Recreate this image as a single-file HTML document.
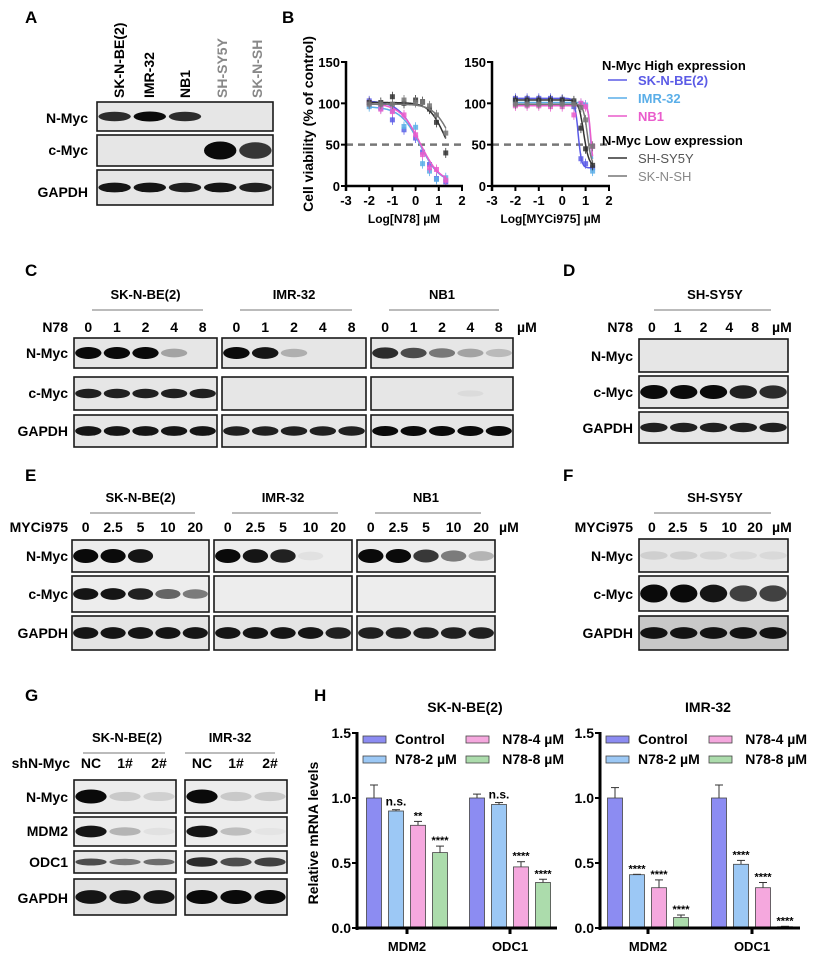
<!DOCTYPE html>
<html><head><meta charset="utf-8"><style>
html,body{margin:0;padding:0;background:#fff;}
svg{display:block;font-family:"Liberation Sans",Arial,sans-serif;font-weight:bold;}
</style></head><body>
<svg id="fig" width="813" height="958" viewBox="0 0 813 958" xmlns="http://www.w3.org/2000/svg">
<g id="letters" font-size="17" fill="#000">
<text x="25" y="23">A</text>
<text x="282" y="23">B</text>
<text x="25" y="276">C</text>
<text x="563" y="276">D</text>
<text x="25" y="481">E</text>
<text x="563" y="481">F</text>
<text x="25" y="701">G</text>
<text x="314" y="701">H</text>
</g>
<g id="blots"></g>
<g id="chartB"></g>
<g id="chartH"></g>
</svg>
<script>
// ---------- Panel B data ----------
const bLines = ["SK-N-BE(2)","IMR-32","NB1","SH-SY5Y","SK-N-SH"];
const bColors = ["#5b5be6","#5aaee8","#ea5ccc","#333333","#777777"];
const b1X = [-2,-1.5,-1,-0.5,0,0.3,0.6,0.9,1.3];
const b1SKNBE = [103,95,80,68,58,41,26,9,5];
const b1IMR = [96,94,91,72,71,27,18,8,10];
const b1NB1 = [100,93,90,86,62,38,22,20,7];
const b1SHSY = [101,101,108,100,104,102,93,77,40];
const b1SKNSH = [99,99,99,104,101,101,97,86,64];
const b1IC50 = [0.15,0.2,0.2,1.25,1.5];
const b1Hill = [1.0,1.0,1.0,1.3,1.2];
const b2X = [-2,-1.5,-1,-0.5,0,0.5,0.8,1.0,1.3];
const b2SKNBE = [106,106,106,106,105,96,33,27,22];
const b2IMR = [101,101,101,101,101,101,100,98,18];
const b2NB1 = [97,97,97,96,96,86,100,96,48];
const b2SHSY = [104,104,104,104,104,103,70,45,25];
const b2SKNSH = [99,99,99,99,99,99,95,80,48];
const b2IC50 = [0.68,1.2,1.22,0.92,1.08];
const b2Hill = [6,8,8,4,5];
const bYTicks = [0,50,100,150];
const bXTicks = [-3,-2,-1,0,1,2];

// ---------- Panel H data ----------
const hGenes = ["MDM2","ODC1"];
const hGroups = ["Control","N78-2 µM","N78-4 µM","N78-8 µM"];
const hColors = ["#8c8cf2","#9cc8f5","#f5a8de","#acdcac"];
const hSKNBE = [[1.0,0.9,0.79,0.58],[1.0,0.95,0.47,0.35]];
const hSKNBEErr = [[0.1,0.01,0.03,0.05],[0.03,0.015,0.04,0.025]];
const hSKNBESig = [["","n.s.","**","****"],["","n.s.","****","****"]];
const hIMR = [[1.0,0.41,0.31,0.08],[1.0,0.49,0.31,0.01]];
const hIMRErr = [[0.08,0.003,0.06,0.02],[0.1,0.03,0.04,0.003]];
const hIMRSig = [["","****","****","****"],["","****","****","****"]];
const hYTicks = [0,0.5,1.0,1.5];

const NS="http://www.w3.org/2000/svg";
function mk(tag, parent, attrs){const e=document.createElementNS(NS,tag);for(const k in attrs)e.setAttribute(k,attrs[k]);parent.appendChild(e);return e;}
function txt(parent,x,y,s,size,anchor,fill,extra){const t=mk('text',parent,Object.assign({x:x,y:y,'font-size':size,'text-anchor':anchor||'start',fill:fill||'#000'},extra||{}));t.textContent=s;return t;}

// ---------- Blots ----------
const blots=document.getElementById('blots');
function blot(x0,x1,y0,y1,ints,name,bg,bandH){
  const g=mk('g',blots,{});
  
  
  mk('rect',g,{x:x0,y:y0,width:x1-x0,height:y1-y0,fill:bg||'#e6e6e6',stroke:'#1a1a1a','stroke-width':1.6});
  const n=ints.length, w=(x1-x0)/n;
  ints.forEach((v,i)=>{ if(v<=0)return;
    const ry=Math.min((y1-y0)*0.4,(bandH||(y1-y0)*0.2)*(0.6+0.4*v));
    const b=mk('ellipse',g,{cx:x0+w*(i+0.5),cy:(y0+y1)/2,rx:w*0.46,ry:ry,fill:'#0a0a0a','fill-opacity':Math.min(1,v)});
    
    
  });
}
function rowLabel(x,y,s){const t=txt(blots,x,y,s,14,'end');}

// Panel A
const aNames=["SK-N-BE(2)","IMR-32","NB1","SH-SY5Y","SK-N-SH"];
const aX=[118,148,184,221,256];
aNames.forEach((s,i)=>{const t=txt(blots,aX[i]+6,98,s,14,'start',i<3?'#000':'#888',{transform:`rotate(-90 ${aX[i]+6} 98)`});});
blot(97,273,102,131,[0.85,1,0.85,0,0],'blot-a-nmyc',null,5);
blot(97,273,135,166,[0,0,0,1,0.8],'blot-a-cmyc',null,9);
blot(97,273,170,205,[0.95,0.95,0.9,0.95,0.9],'blot-a-gapdh',null,5);
rowLabel(88,123,'N-Myc');rowLabel(88,155,'c-Myc');rowLabel(88,197,'GAPDH');

function header(cx,y,s,x0,x1){txt(blots,cx,y,s,13,'middle');mk('line',blots,{x1:x0,x2:x1,y1:y+11,y2:y+11,stroke:'#777','stroke-width':1});}
function doses(x0,x1,y,arr,extra){const w=(x1-x0)/arr.length;arr.forEach((d,i)=>txt(blots,x0+w*(i+0.5),y,d,14,'middle'));if(extra)txt(blots,x1+4,y,extra,14,'start');}

// Panel C
const cBox=[[74,217],[222,366],[371,513]];
const cNames=["SK-N-BE(2)","IMR-32","NB1"];
const cN=[[1,1,1,0.3,0],[1,0.95,0.25,0,0],[0.85,0.7,0.5,0.3,0.2]];
const cC=[[0.9,0.9,0.9,0.9,0.9],[0,0,0,0,0],[0,0,0,0.05,0]];
const cG=[[0.95,0.95,0.95,0.95,0.95],[0.9,0.9,0.9,0.9,0.9],[1,1,1,1,1]];
txt(blots,68,332,'N78',14,'end');
cBox.forEach((b,i)=>{header((b[0]+b[1])/2,299,cNames[i],b[0]+18,b[1]-14);doses(b[0],b[1],332,["0","1","2","4","8"],i==2?'µM':'');
 blot(b[0],b[1],338,368,cN[i],'blot-c-nmyc',null,6);blot(b[0],b[1],377,410,cC[i],'blot-c-cmyc',null,5);blot(b[0],b[1],415,447,cG[i],'blot-c-gapdh',null,5);});
rowLabel(68,358,'N-Myc');rowLabel(68,398,'c-Myc');rowLabel(68,436,'GAPDH');
// Panel D
header(715,299,'SH-SY5Y',654,771);txt(blots,633,332,'N78',14,'end');doses(639,768,332,["0","1","2","4","8"],'µM');
blot(639,788,339,372,[0,0,0,0,0],'blot-d-nmyc');blot(639,788,376,408,[1,1,1,0.9,0.85],'blot-d-cmyc',null,7);blot(639,788,412,443,[0.9,0.9,0.9,0.9,0.9],'blot-d-gapdh',null,5);
rowLabel(633,361,'N-Myc');rowLabel(633,397,'c-Myc');rowLabel(633,433,'GAPDH');
// Panel E
const eBox=[[72,209],[214,352],[357,495]];
const eN=[[1,1,0.95,0,0],[1,0.95,0.9,0.05,0],[1,1,0.8,0.5,0.25]];
const eC=[[0.95,0.95,0.9,0.6,0.5],[0,0,0,0,0],[0,0,0,0,0]];
const eG=[[0.95,0.95,0.95,0.95,0.95],[0.95,0.95,0.95,0.95,0.9],[0.9,0.9,0.9,0.9,0.9]];
txt(blots,68,532,'MYCi975',14,'end');
eBox.forEach((b,i)=>{header((b[0]+b[1])/2,502,cNames[i],b[0]+18,b[1]-14);doses(b[0],b[1],532,["0","2.5","5","10","20"],i==2?'µM':'');
 blot(b[0],b[1],540,572,eN[i],'blot-e-nmyc','#ededed',7);blot(b[0],b[1],576,612,eC[i],'blot-e-cmyc','#ededed',6);blot(b[0],b[1],616,650,eG[i],'blot-e-gapdh','#e4e4e4',6);});
rowLabel(68,561,'N-Myc');rowLabel(68,599,'c-Myc');rowLabel(68,638,'GAPDH');
// Panel F
header(715,502,'SH-SY5Y',654,771);txt(blots,633,532,'MYCi975',14,'end');doses(639,768,532,["0","2.5","5","10","20"],'µM');
blot(639,788,539,572,[0.1,0.1,0.08,0.06,0.06],'blot-f-nmyc');blot(639,788,576,611,[1,1,0.95,0.75,0.75],'blot-f-cmyc','#e8e8e8',9);blot(639,788,616,650,[0.95,0.95,0.95,0.95,0.95],'blot-f-gapdh','#c8c8c8',6);
rowLabel(633,561,'N-Myc');rowLabel(633,599,'c-Myc');rowLabel(633,638,'GAPDH');
// Panel G
header(127,742,'SK-N-BE(2)',83,165);header(230,742,'IMR-32',185,275);
txt(blots,70,768,'shN-Myc',14,'end');doses(74,176,768,["NC","1#","2#"]);doses(185,287,768,["NC","1#","2#"]);
blot(74,176,780,813,[1,0.15,0.12],'blot-g-sknbe-nmyc','#ececec',7);blot(185,287,780,813,[1,0.15,0.15],'blot-g-imr-nmyc','#ececec',7);
blot(74,176,817,846,[0.95,0.25,0.05],'blot-g-sknbe-mdm2','#ececec',6);blot(185,287,817,846,[0.95,0.2,0.03],'blot-g-imr-mdm2','#ececec',6);
blot(74,176,851,873,[0.7,0.5,0.55],'blot-g-sknbe-odc1','#e6e6e6',4);blot(185,287,851,873,[0.85,0.7,0.75],'blot-g-imr-odc1','#e6e6e6',5);
blot(74,176,879,915,[0.95,0.95,0.95],'blot-g-sknbe-gapdh','#e2e2e2',7);blot(185,287,879,915,[1,1,1],'blot-g-imr-gapdh','#e2e2e2',7);
rowLabel(68,802,'N-Myc');rowLabel(68,836,'MDM2');rowLabel(68,867,'ODC1');rowLabel(68,903,'GAPDH');

// ---------- Panel B charts ----------
const gB=document.getElementById('chartB');
function drawDR(ax0,ax1,xs,series,ic50,hill,xlabel,name){
  const y0=186,y150=62;
  const X=v=>ax0+(v+3)/5*(ax1-ax0);
  const Y=v=>y0-(v/150)*(y0-y150);
  const g=mk('g',gB,{});
  
  
  mk('line',g,{x1:X(-3),x2:X(2),y1:Y(50),y2:Y(50),stroke:'#777','stroke-width':2.5,'stroke-dasharray':'7,5'});
  series.forEach((s,k)=>{
    let d='';for(let i=0;i<=200;i++){const xv=xs[0]+(xs[xs.length-1]-xs[0])*i/200;const top=s[0],bot=k<3?(name.includes('1')?3:22):(name.includes('1')?20:24);const yv=bot+(top-bot)/(1+Math.pow(10,(xv-ic50[k])*hill[k]));d+=(i?'L':'M')+X(xv).toFixed(1)+','+Y(yv).toFixed(1);}
    const p=mk('path',g,{d:d,fill:'none',stroke:bColors[k],'stroke-width':1.5});
    
    
    s.forEach((v,i)=>{
      mk('line',g,{x1:X(xs[i]),x2:X(xs[i]),y1:Y(v)-5,y2:Y(v)+5,stroke:bColors[k],'stroke-width':0.8});
      const m=mk('rect',g,{x:X(xs[i])-2.5,y:Y(v)-2.5,width:5,height:5,fill:bColors[k],'fill-opacity':0.85});
      
      
    });
  });
  mk('line',g,{x1:ax0,x2:ax0,y1:y150-1,y2:y0+5,stroke:'#000','stroke-width':2.5});
  mk('line',g,{x1:ax0-1,x2:ax1+1,y1:y0,y2:y0,stroke:'#000','stroke-width':2.5});
  bYTicks.forEach(t=>{mk('line',g,{x1:ax0-5,x2:ax0,y1:Y(t),y2:Y(t),stroke:'#000','stroke-width':2});txt(g,ax0-6,Y(t)+5,String(t),13,'end');});
  bXTicks.forEach(t=>{mk('line',g,{x1:X(t),x2:X(t),y1:y0,y2:y0+5,stroke:'#000','stroke-width':2});txt(g,X(t),y0+19,String(t),13,'middle');});
  txt(g,(ax0+ax1)/2,y0+37,xlabel,12,'middle');
}
drawDR(346,462,b1X,[b1SKNBE,b1IMR,b1NB1,b1SHSY,b1SKNSH],b1IC50,b1Hill,'Log[N78] µM','chart-b1');
drawDR(492,609,b2X,[b2SKNBE,b2IMR,b2NB1,b2SHSY,b2SKNSH],b2IC50,b2Hill,'Log[MYCi975] µM','chart-b2');
{const t=txt(gB,313,124,'Cell viability (% of control)',14,'middle','#000',{transform:'rotate(-90 313 124)'});}
txt(gB,602,70,'N-Myc High expression',13,'start');
txt(gB,602,145,'N-Myc Low expression',13,'start');
const legY=[85,103,121,163,181];
bLines.forEach((s,k)=>{const e=mk('g',gB,{});
 
 
 mk('line',e,{x1:608,x2:627,y1:legY[k]-5,y2:legY[k]-5,stroke:bColors[k],'stroke-width':1.5});
 txt(e,638,legY[k],s,13,'start',k<3?bColors[k]:(k==3?'#555':'#888'),{'font-weight':k<3?'bold':'normal'});});

// ---------- Panel H charts ----------
const gH=document.getElementById('chartH');
function drawBars(ax0,ax1,centers,vals,errs,sigs,title,name){
  const y0=928,y15=733;const Y=v=>y0-v/1.5*(y0-y15);
  const off=[-33,-11,11,33],bw=15;
  const g=mk('g',gH,{});
  
  
  txt(g,(ax0+ax1)/2+8,712,title,14,'middle');
  vals.forEach((arr,c)=>arr.forEach((v,k)=>{
    const x=centers[c]+off[k];
    mk('line',g,{x1:x,x2:x,y1:Y(v),y2:Y(v+errs[c][k]),stroke:'#333','stroke-width':1});
    mk('line',g,{x1:x-4,x2:x+4,y1:Y(v+errs[c][k]),y2:Y(v+errs[c][k]),stroke:'#333','stroke-width':1});
    const r=mk('rect',g,{x:x-bw/2,y:Y(v),width:bw,height:y0-Y(v),fill:hColors[k],stroke:'#444','stroke-width':0.8});
    
    
    if(sigs[c][k])txt(g,x,Y(v+errs[c][k])-(sigs[c][k]=='n.s.'?4:2),sigs[c][k],sigs[c][k]=='n.s.'?12:11,'middle');
  }));
  mk('line',g,{x1:ax0,x2:ax0,y1:y15-1,y2:y0+2,stroke:'#000','stroke-width':3});
  mk('line',g,{x1:ax0-1,x2:ax1,y1:y0,y2:y0,stroke:'#000','stroke-width':3});
  hYTicks.forEach(t=>{mk('line',g,{x1:ax0-5,x2:ax0,y1:Y(t),y2:Y(t),stroke:'#000','stroke-width':2});txt(g,ax0-6,Y(t)+5,t.toFixed(1),14,'end');});
  hGenes.forEach((s,c)=>{mk('line',g,{x1:centers[c],x2:centers[c],y1:y0,y2:y0+6,stroke:'#000','stroke-width':3});txt(g,centers[c],y0+23,s,13,'middle');});
  const lx=[ax0+6,ax0+109],ly=[741,761];
  hGroups.forEach((s,k)=>{const col=k<2?0:1,row=k%2;const e=mk('g',g,{});
    
    
    mk('rect',e,{x:lx[col],y:ly[row]-5,width:23,height:7,fill:hColors[k],stroke:'#444','stroke-width':0.8});
    txt(e,col==0?lx[col]+32:ax0+207,ly[row]+3,s,14,col==0?'start':'end');});
}
drawBars(357,557,[407,510],hSKNBE,hSKNBEErr,hSKNBESig,'SK-N-BE(2)','chart-h-sknbe2');
drawBars(600,800,[648,752],hIMR,hIMRErr,hIMRSig,'IMR-32','chart-h-imr32');
{const t=txt(gH,318,833,'Relative mRNA levels',14,'middle','#000',{transform:'rotate(-90 318 833)'});}
</script>
</body></html>
